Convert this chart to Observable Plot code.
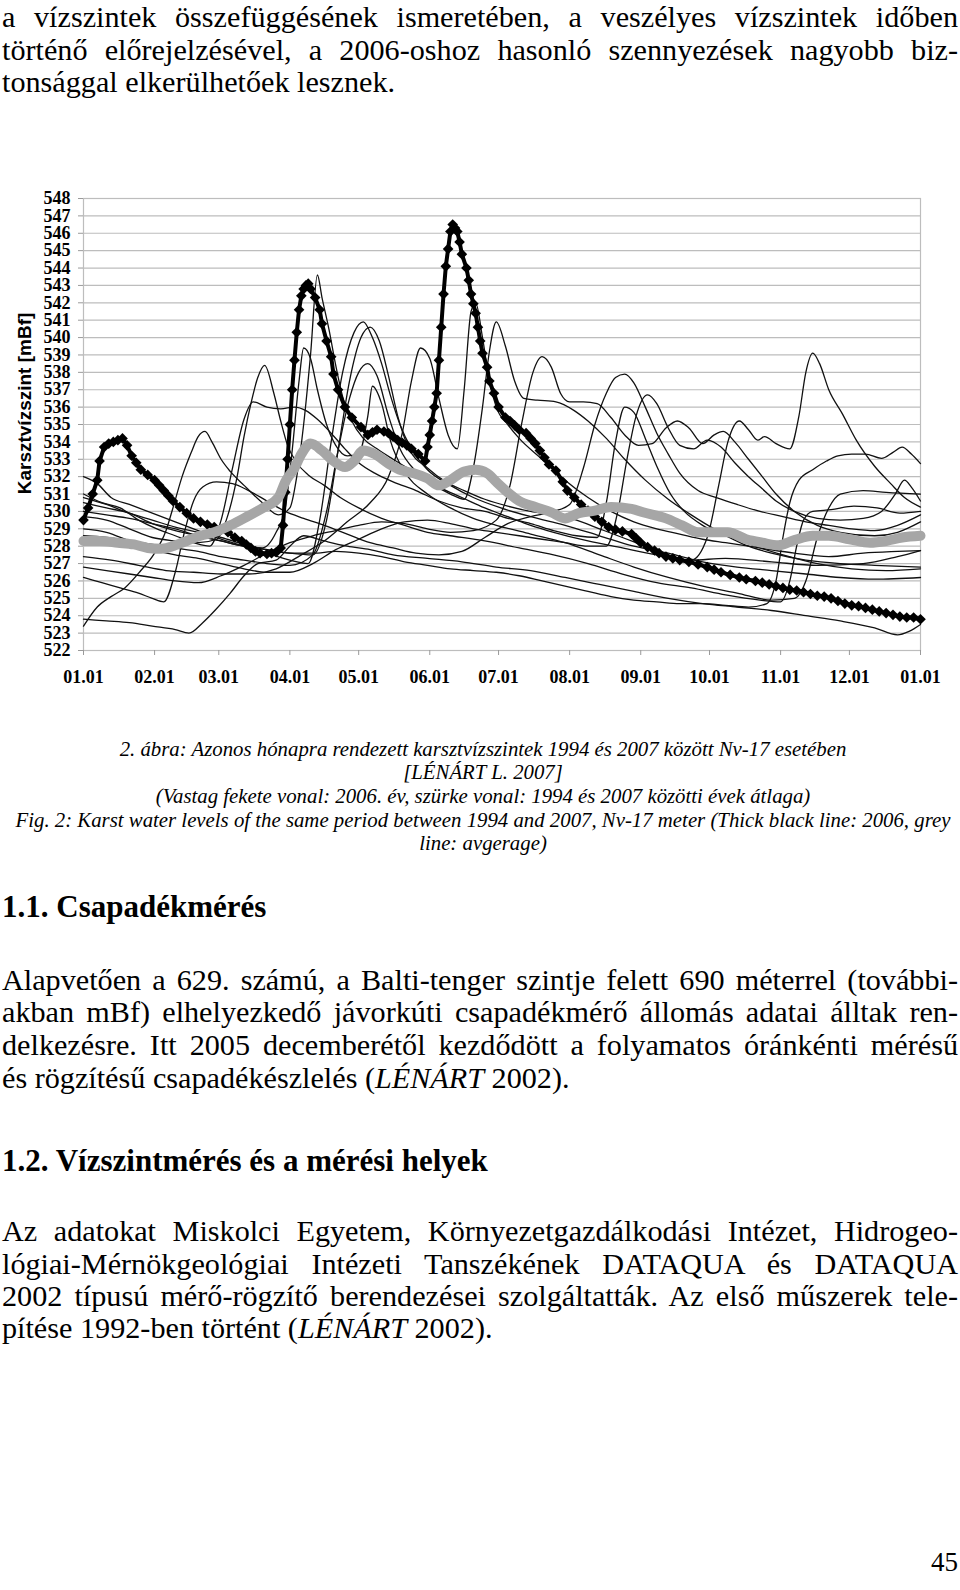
<!DOCTYPE html>
<html>
<head>
<meta charset="utf-8">
<script src="https://cdn.jsdelivr.net/npm/d3@7"></script>
<script src="https://cdn.jsdelivr.net/npm/@observablehq/plot@0.6"></script>
<style>
  html, body { margin: 0; padding: 0; background: #fff; }
  body { width: 960px; height: 1590px; position: relative; overflow: hidden; color: #000; font-family: "Liberation Serif", "Times New Roman", serif; }
  .ln { position: absolute; white-space: nowrap; }
  #chart { position: absolute; left: 0; top: 180px; }
</style>
</head>
<body>
<div id="chart"></div>
<script>
// ---------- DATA ----------
const monthDays = [0, 31, 59, 90, 120, 151, 181, 212, 243, 273, 304, 334, 365];
const monthLabels = ["01.01","02.01","03.01","04.01","05.01","06.01","07.01","08.01","09.01","10.01","11.01","12.01","01.01"];
const yTicks = [522,523,524,525,526,527,528,529,530,531,532,533,534,535,536,537,538,539,540,541,542,543,544,545,546,547,548];
const yTitle = "Karsztvízszint [mBf]";

// thick black line: year 2006 [day, level]
const year2006 = [[0,529.5],[2,530.2],[4,531.0],[6,531.8],[7,532.9],[9,533.7],[11,533.9],[13,534.0],[15,534.1],[17,534.2],[19,533.8],[21,533.2],[23,532.8],[25,532.4],[28,532.1],[31,531.8],[33,531.5],[35,531.2],[37,530.9],[39,530.6],[42,530.25],[45,529.9],[48,529.6],[51,529.4],[54,529.25],[57,529.1],[60,528.95],[63,528.8],[66,528.5],[69,528.3],[71,528.1],[73,527.9],[75,527.7],[77,527.6],[80,527.55],[82,527.6],[84,527.65],[86,527.9],[87,529.2],[88,531.1],[89,533.0],[90,535.0],[91,537.0],[92,538.7],[93,540.3],[94,541.6],[95,542.4],[96,542.8],[97,543.0],[98,543.1],[99,542.8],[101,542.3],[103,541.6],[104,540.8],[106,539.8],[108,538.9],[109,537.9],[111,537.0],[114,536.0],[117,535.4],[121,534.85],[124,534.4],[126,534.55],[128,534.7],[131,534.6],[133,534.5],[135,534.3],[137,534.1],[139,533.95],[141,533.8],[143,533.6],[146,533.3],[149,532.9],[150,533.7],[151,534.4],[152,535.2],[153,536.0],[154,536.8],[155,538.7],[156,540.6],[157,542.5],[158,544.1],[159,545.1],[160,546.1],[161,546.5],[162,546.3],[163,546.1],[164,545.5],[165,544.8],[167,544.0],[168,543.3],[169,542.5],[170,541.95],[171,541.4],[172,540.6],[173,539.8],[174,539.1],[176,538.3],[177,537.5],[179,536.8],[181,536.0],[184,535.4],[186,535.2],[188,534.95],[190,534.7],[193,534.5],[195,534.2],[197,533.9],[199,533.5],[201,533.1],[203,532.7],[206,532.35],[209,531.7],[211,531.2],[214,530.8],[217,530.4],[220,530.05],[223,529.7],[226,529.4],[229,529.1],[232,528.95],[235,528.85],[239,528.7],[241,528.45],[243,528.2],[246,527.95],[249,527.75],[251,527.6],[254,527.4],[257,527.3],[260,527.2],[264,527.1],[268,526.95],[272,526.8],[275,526.65],[278,526.5],[282,526.35],[286,526.2],[289,526.1],[293,526.0],[296,525.9],[299,525.8],[302,525.7],[305,525.6],[308,525.5],[311,525.45],[314,525.35],[317,525.25],[320,525.15],[323,525.1],[326,525.0],[329,524.85],[332,524.7],[335,524.6],[338,524.55],[341,524.45],[344,524.35],[347,524.25],[350,524.15],[353,524.05],[356,523.95],[359,523.9],[362,523.9],[365,523.8]];

// grey line: average of 1994-2007
const average = [[0,528.3],[7,528.3],[15,528.2],[22,528.1],[28,527.9],[34,527.85],[40,528.05],[45,528.3],[51,528.6],[57,528.8],[64,529.2],[72,529.75],[79,530.25],[85,530.8],[88,531.7],[92,532.5],[95,533.3],[99,533.9],[104,533.5],[109,532.9],[114,532.55],[118,532.9],[122,533.5],[127,533.3],[133,532.75],[139,532.35],[144,532.2],[150,531.9],[155,531.5],[160,531.8],[166,532.3],[171,532.4],[176,532.2],[180,531.7],[185,531.1],[190,530.6],[197,530.25],[204,529.95],[210,529.6],[216,529.9],[223,530.05],[230,530.25],[239,530.15],[244,529.95],[254,529.6],[261,529.2],[268,528.8],[276,528.8],[281,528.8],[289,528.4],[296,528.2],[303,528.05],[310,528.35],[318,528.6],[325,528.6],[334,528.4],[343,528.2],[350,528.3],[357,528.5],[365,528.6]];

// thin black lines: the other years
const other01 = [[0,523.8],[10,523.7],[20,523.6],[30,523.4],[40,523.2],[46,523.0],[52,523.6],[58,524.4],[64,525.3],[70,526.3],[76,527.0],[84,527.2],[90,528.0],[96,528.6],[105,528.3],[115,528.0],[125,527.8],[135,527.5],[150,527.3],[165,527.1],[180,526.8],[195,526.6],[210,526.2],[225,525.8],[240,525.4],[255,525.0],[270,524.7],[285,524.5],[300,524.3],[315,524.0],[330,523.7],[345,523.3],[355,522.9],[360,523.1],[365,523.5]];
const other02 = [[0,523.4],[6,524.5],[12,525.1],[18,525.6],[25,526.6],[31,527.6],[36,528.9],[39,530.2],[43,532.0],[47,533.4],[50,534.3],[53,534.6],[56,534.0],[60,533.0],[64,532.3],[70,531.5],[78,530.5],[85,529.8],[90,530.2],[93,532.0],[96,535.0],[99,539.0],[102,543.6],[104,542.3],[107,540.5],[110,538.4],[113,536.6],[117,535.2],[122,534.2],[128,533.6],[135,533.0],[145,532.2],[155,531.4],[165,530.8],[175,530.2],[185,529.7],[195,529.2],[205,528.8],[220,528.3],[235,527.9],[250,527.5],[265,527.2],[280,527.3],[300,527.1],[320,526.9],[340,527.0],[355,527.4],[365,527.75]];
const other03 = [[0,529.7],[10,529.5],[20,529.0],[30,528.5],[40,528.3],[50,528.2],[58,528.4],[63,529.8],[67,532.0],[70,534.3],[73,536.2],[76,537.7],[79,538.4],[83,536.8],[86,535.2],[89,533.8],[93,532.8],[98,532.1],[105,531.5],[112,530.8],[120,530.2],[130,529.6],[140,529.2],[150,528.8],[160,528.6],[175,528.3],[190,527.9],[205,527.5],[220,527.0],[235,526.4],[250,525.9],[265,525.6],[280,525.2],[295,524.9],[304,524.8],[308,526.0],[311,528.0],[314,529.5],[318,530.0],[326,530.1],[336,530.3],[346,530.2],[356,529.9],[365,530.0]];
const other04 = [[0,531.0],[8,530.5],[16,530.2],[24,529.5],[32,529.0],[40,528.6],[48,528.2],[55,528.0],[60,529.5],[65,532.5],[70,535.3],[74,536.3],[80,536.0],[86,535.9],[92,536.0],[97,535.8],[102,535.3],[108,534.5],[114,533.6],[120,532.8],[127,532.2],[135,531.7],[145,531.2],[155,530.6],[165,530.2],[175,530.0],[185,529.6],[195,529.3],[205,528.9],[215,528.6],[224,528.5],[228,530.5],[232,534.0],[236,536.0],[240,535.7],[245,534.2],[250,532.6],[256,531.0],[262,530.0],[270,529.2],[280,528.6],[290,528.0],[300,527.6],[315,527.2],[330,527.0],[345,526.9],[365,526.8]];
const other05 = [[0,530.5],[10,530.2],[20,529.9],[30,529.3],[40,528.9],[50,528.6],[60,528.3],[70,528.0],[78,527.9],[84,528.8],[88,530.2],[91,533.5],[94,537.5],[96,539.4],[99,538.8],[102,537.0],[106,535.0],[110,533.8],[115,533.2],[120,533.3],[124,535.5],[126,537.2],[130,536.2],[134,534.0],[140,532.3],[150,531.0],[160,530.2],[170,529.6],[180,529.2],[195,528.7],[210,528.2],[225,527.5],[240,526.8],[255,526.2],[270,525.7],[285,525.3],[300,524.9],[310,525.0],[315,526.0],[320,528.5],[325,530.2],[330,531.0],[340,531.2],[350,531.1],[365,531.0]];
const other06 = [[0,532.0],[6,531.6],[12,530.8],[20,530.4],[28,530.0],[36,529.6],[44,529.2],[52,528.8],[60,528.4],[70,528.0],[80,527.6],[90,527.2],[98,527.0],[103,529.5],[108,534.0],[113,538.0],[118,540.3],[122,540.9],[126,540.0],[130,538.5],[134,536.6],[138,535.0],[143,533.6],[150,532.4],[160,531.5],[170,530.8],[182,530.2],[195,529.7],[210,529.2],[225,528.6],[240,528.0],[255,527.6],[270,527.1],[285,526.8],[300,526.6],[315,526.4],[330,526.2],[345,526.1],[365,526.2]];
const other07 = [[0,528.6],[10,528.5],[20,528.3],[30,528.1],[40,527.9],[50,527.7],[60,527.4],[70,527.2],[80,527.0],[90,526.9],[100,527.5],[106,530.0],[111,533.5],[116,536.5],[120,538.0],[124,538.5],[128,537.8],[133,535.5],[138,533.6],[145,532.3],[152,531.6],[160,531.0],[166,530.7],[170,532.5],[174,536.0],[177,539.2],[180,540.9],[184,539.5],[188,537.5],[192,536.5],[198,536.4],[206,536.3],[214,535.8],[220,535.2],[228,534.2],[236,533.0],[245,531.8],[255,530.7],[265,529.8],[275,529.0],[285,528.4],[295,527.9],[305,527.5],[320,527.0],[335,526.7],[350,526.6],[365,526.7]];
const other08 = [[0,527.4],[12,527.2],[24,526.9],[36,526.6],[48,526.5],[60,526.4],[72,526.4],[84,526.7],[95,527.5],[105,528.3],[115,529.4],[125,530.5],[133,532.0],[139,534.5],[143,537.5],[147,539.4],[151,538.8],[155,536.5],[159,534.4],[163,533.6],[166,537.0],[169,541.5],[171,542.0],[174,540.0],[177,537.5],[180,536.0],[185,535.0],[190,534.2],[200,533.0],[210,531.8],[220,530.8],[230,530.0],[240,529.4],[250,529.0],[260,528.7],[270,528.4],[280,528.2],[295,527.9],[310,527.6],[325,527.4],[340,527.6],[355,527.7],[365,527.75]];
const other09 = [[0,526.8],[10,526.6],[20,526.4],[30,526.2],[40,526.0],[50,525.9],[60,526.3],[70,526.9],[80,527.6],[90,528.2],[100,528.6],[110,528.9],[120,529.2],[130,529.4],[140,529.3],[150,529.0],[160,528.8],[170,528.9],[180,529.5],[186,531.5],[191,535.0],[196,538.0],[200,538.9],[204,538.3],[208,536.8],[212,536.3],[218,536.3],[224,536.2],[230,535.4],[236,534.4],[242,533.8],[248,533.9],[254,534.8],[259,535.2],[264,534.8],[270,533.9],[275,534.4],[279,534.6],[284,534.0],[290,533.0],[296,532.0],[302,531.0],[310,530.0],[320,529.2],[330,528.8],[345,528.6],[355,528.8],[365,529.4]];
const other10 = [[0,526.2],[8,525.9],[16,525.6],[24,525.3],[30,525.0],[35,524.8],[40,526.5],[44,528.8],[48,530.6],[52,531.4],[58,531.7],[65,531.6],[72,531.2],[80,530.6],[88,530.0],[96,529.6],[105,529.2],[115,528.7],[125,528.2],[135,527.9],[145,527.6],[155,527.5],[165,527.7],[175,528.5],[185,529.3],[195,529.7],[205,530.0],[212,530.4],[218,532.5],[223,535.0],[228,536.8],[232,537.7],[236,537.9],[240,537.4],[245,536.0],[250,534.5],[255,533.3],[260,532.2],[268,531.2],[276,530.8],[285,530.4],[295,530.0],[305,529.7],[315,529.4],[325,529.2],[335,529.0],[345,528.9],[355,529.2],[365,529.8]];
const other11 = [[0,530.8],[10,530.4],[20,529.9],[30,529.5],[40,529.1],[50,528.8],[60,528.5],[70,528.1],[80,527.8],[90,527.6],[100,527.6],[110,527.7],[120,527.6],[130,527.4],[140,527.1],[150,526.9],[160,526.7],[170,526.6],[180,526.5],[190,526.3],[200,526.0],[210,525.7],[220,525.4],[230,525.1],[240,524.9],[250,524.8],[260,524.7],[270,524.7],[280,524.6],[290,524.5],[298,524.7],[302,526.0],[305,528.5],[308,530.5],[312,531.8],[318,532.4],[324,532.9],[329,533.2],[335,533.3],[341,533.3],[348,533.05],[353,533.4],[357,533.7],[361,533.3],[365,532.75]];
const other12 = [[0,529.0],[10,528.8],[20,528.3],[30,527.8],[40,527.5],[50,527.3],[60,527.0],[70,526.7],[80,526.5],[90,526.5],[100,527.0],[110,527.8],[120,528.4],[130,529.0],[140,529.4],[150,529.5],[160,529.3],[170,529.0],[180,528.8],[190,528.6],[200,528.4],[210,528.2],[220,528.0],[228,528.0],[233,530.0],[237,533.0],[241,535.5],[246,536.7],[250,536.2],[255,534.8],[260,533.8],[266,533.6],[272,534.1],[278,533.7],[284,532.8],[290,532.0],[296,531.3],[302,530.6],[310,530.0],[320,529.6],[330,529.5],[340,529.6],[348,530.0],[354,531.0],[358,531.8],[361,531.4],[365,530.6]];
const other13 = [[0,530.0],[10,529.8],[20,529.6],[30,529.3],[40,529.0],[50,528.6],[60,528.3],[70,528.0],[80,527.8],[90,527.6],[100,527.5],[106,529.5],[111,533.5],[116,537.5],[121,540.0],[125,540.6],[129,539.8],[133,537.8],[137,535.5],[142,533.6],[150,532.5],[158,531.7],[166,531.2],[175,530.7],[185,530.3],[195,530.0],[205,529.8],[215,529.5],[225,529.0],[235,528.5],[245,528.0],[255,527.5],[265,527.2],[272,528.5],[277,531.5],[281,534.0],[286,535.2],[290,534.7],[294,534.1],[297,534.3],[302,533.9],[308,533.6],[312,535.5],[315,538.0],[318,539.1],[321,538.5],[325,537.0],[331,535.6],[337,534.1],[345,532.6],[352,531.6],[358,530.8],[365,530.25]];

// ---------- TABLES FOR THE LIBRARY ----------
const otherList = [other01, other02, other03, other04, other05, other06, other07, other08, other09, other10, other11, other12, other13];
const thinRows = otherList.flatMap((arr, i) => arr.map(([day, value]) => ({series: i, day, value})));
const rows2006 = year2006.map(([day, value]) => ({day, value}));
const rowsAvg = average.map(([day, value]) => ({day, value}));

const chart = Plot.plot({
  width: 960,
  height: 520,
  marginLeft: 83,
  marginRight: 40,
  marginTop: 18,
  marginBottom: 50,
  x: {domain: [0, 365]},
  y: {domain: [522, 548]},
  style: {fontFamily: "'Liberation Serif', serif", background: "white", color: "black", overflow: "visible"},
  marks: [
    Plot.ruleY(yTicks, {stroke: "#bdbdbd", strokeWidth: 1.2}),
    Plot.frame({stroke: "#bdbdbd", strokeWidth: 1.2}),
    Plot.axisY({ticks: yTicks, tickSize: 5, tickPadding: 8, stroke: "#9a9a9a", fill: "black", fontSize: 18, fontWeight: "bold", label: null}),
    Plot.axisX({ticks: monthDays, tickFormat: (d, i) => monthLabels[i], tickSize: 5, tickPadding: 15, stroke: "#9a9a9a", fill: "black", fontSize: 18, fontWeight: "bold", label: null}),
    Plot.line(thinRows, {x: "day", y: "value", z: "series", stroke: "#111", strokeWidth: 1.3, curve: "monotone-x"}),
    Plot.line(rows2006, {x: "day", y: "value", stroke: "black", strokeWidth: 4}),
    Plot.dot(rows2006, {x: "day", y: "value", symbol: "diamond2", r: 4.8, fill: "black"}),
    Plot.line(rowsAvg, {x: "day", y: "value", stroke: "#a6a6a6", strokeWidth: 10, strokeLinecap: "round", strokeLinejoin: "round", curve: "monotone-x"}),
    Plot.text([yTitle], {frameAnchor: "left", textAnchor: "middle", rotate: -90, dx: -59, dy: -21, text: d => d, fontFamily: "'Liberation Sans', Arial, sans-serif", fontWeight: "bold", fontSize: 19, fill: "black"})
  ]
});
document.getElementById("chart").appendChild(chart);

// ---------- TEXT ----------
const topLines = [
  "a vízszintek összefüggésének ismeretében, a veszélyes vízszintek időben",
  "történő előrejelzésével, a 2006-oshoz hasonló szennyezések nagyobb biz-",
  "tonsággal elkerülhetőek lesznek."
];
const captionLines = [
  "2. ábra: Azonos hónapra rendezett karsztvízszintek 1994 és 2007 között Nv-17 esetében",
  "[LÉNÁRT L. 2007]",
  "(Vastag fekete vonal: 2006. év, szürke vonal: 1994 és 2007 közötti évek átlaga)",
  "Fig. 2: Karst water levels of the same period between 1994 and 2007,  Nv-17 meter (Thick black line: 2006, grey",
  "line: avgerage)"
];
const heading1 = "1.1. Csapadékmérés";
const para1 = [
  "Alapvetően a 629. számú, a Balti-tenger szintje felett 690 méterrel (további-",
  "akban mBf) elhelyezkedő jávorkúti csapadékmérő állomás adatai álltak ren-",
  "delkezésre. Itt 2005 decemberétől kezdődött a folyamatos óránkénti mérésű",
  "és rögzítésű csapadékészlelés (<i>LÉNÁRT</i> 2002)."
];
const heading2 = "1.2. Vízszintmérés és a mérési helyek";
const para2 = [
  "Az adatokat Miskolci Egyetem, Környezetgazdálkodási Intézet, Hidrogeo-",
  "lógiai-Mérnökgeológiai Intézeti Tanszékének DATAQUA és DATAQUA",
  "2002 típusú mérő-rögzítő berendezései szolgáltatták. Az első műszerek tele-",
  "pítése 1992-ben történt (<i>LÉNÁRT</i> 2002)."
];
const pageNumber = "45";

function addLine(html, baseline, fs, opt = {}) {
  const left = opt.left ?? 2, width = opt.width ?? 956;
  const lh = fs * 0.8;
  const d = document.createElement("div");
  d.className = "ln";
  d.style.left = left + "px";
  d.style.width = width + "px";
  d.style.fontSize = fs + "px";
  d.style.lineHeight = lh + "px";
  d.style.top = (baseline - (lh / 2 + 0.3375 * fs)) + "px";
  if (opt.bold) d.style.fontWeight = "bold";
  if (opt.italic) d.style.fontStyle = "italic";
  d.style.textAlign = opt.align === "justify" ? "left" : (opt.align || "left");
  const s = document.createElement("span");
  s.innerHTML = html;
  d.appendChild(s);
  document.body.appendChild(d);
  const natural = s.getBoundingClientRect().width;
  if (opt.align === "justify") {
    const spaces = (s.textContent.match(/ /g) || []).length;
    if (spaces) s.style.wordSpacing = ((width - natural) / spaces) + "px";
  } else if (natural > width) {
    s.style.letterSpacing = (-(natural - width) / s.textContent.length) + "px";
  }
}

const bodyFs = 30.2;
[27.2, 59.8, 92.4].forEach((b, i) => addLine(topLines[i], b, bodyFs, {align: i < 2 ? "justify" : "left"}));
[756, 779.7, 803.4, 827.1, 850.8].forEach((b, i) => addLine(captionLines[i], b, 20.8, {italic: true, align: "center", left: 5, width: 956}));
addLine(heading1, 918, 31, {bold: true});
[990, 1022.7, 1055.4, 1088].forEach((b, i) => addLine(para1[i], b, bodyFs, {align: i < 3 ? "justify" : "left"}));
addLine(heading2, 1171.5, 31, {bold: true});
[1241.7, 1273.8, 1306, 1338].forEach((b, i) => addLine(para2[i], b, bodyFs, {align: i < 3 ? "justify" : "left"}));
addLine(pageNumber, 1572, 27, {align: "right", left: 858, width: 100});
</script>
</body>
</html>
